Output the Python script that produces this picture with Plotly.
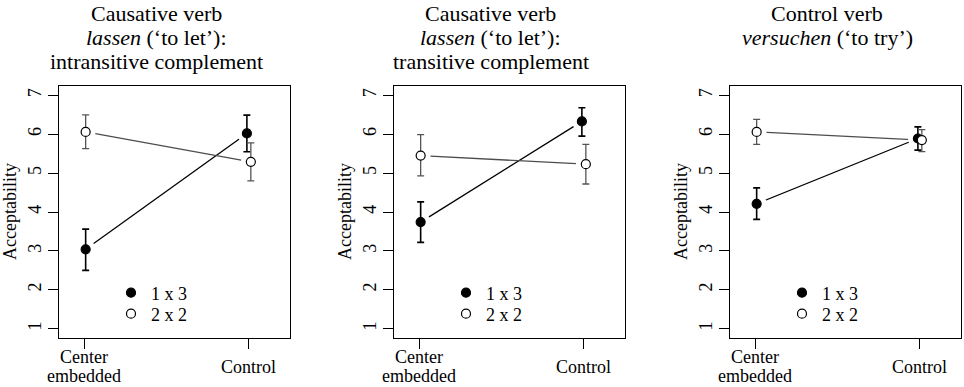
import plotly.graph_objects as go

# ---------------- data ----------------
category_lines = [["Center", "embedded"], ["Control"]]
cat_pos = [1, 2]
series_names = ["1 x 3", "2 x 2"]

panel_titles = [
    ["Causative verb", "<i>lassen</i> (‘to let’):", "intransitive complement"],
    ["Causative verb", "<i>lassen</i> (‘to let’):", "transitive complement"],
    ["Control verb", "<i>versuchen</i> (‘to try’)"],
]

# panel 1
p1_1x3 = [3.04, 6.02]
p1_1x3_hi = [3.56, 6.49]
p1_1x3_lo = [2.50, 5.55]
p1_2x2 = [6.06, 5.29]
p1_2x2_hi = [6.50, 5.78]
p1_2x2_lo = [5.63, 4.80]
# panel 2
p2_1x3 = [3.74, 6.33]
p2_1x3_hi = [4.26, 6.68]
p2_1x3_lo = [3.22, 5.95]
p2_2x2 = [5.45, 5.23]
p2_2x2_hi = [5.99, 5.74]
p2_2x2_lo = [4.93, 4.72]
# panel 3
p3_1x3 = [4.21, 5.89]
p3_1x3_hi = [4.62, 6.19]
p3_1x3_lo = [3.81, 5.59]
p3_2x2 = [6.06, 5.85]
p3_2x2_hi = [6.38, 6.12]
p3_2x2_lo = [5.74, 5.55]

y_ticks = [1, 2, 3, 4, 5, 6, 7]

panels = [
    [(p1_1x3, p1_1x3_hi, p1_1x3_lo), (p1_2x2, p1_2x2_hi, p1_2x2_lo)],
    [(p2_1x3, p2_1x3_hi, p2_1x3_lo), (p2_2x2, p2_2x2_hi, p2_2x2_lo)],
    [(p3_1x3, p3_1x3_hi, p3_1x3_lo), (p3_2x2, p3_2x2_hi, p3_2x2_lo)],
]

# ---------------- style ----------------
FONT = "Liberation Serif"
W, H = 964, 387
dodge = [[0.01, -0.01], [0.01, 0.014]]  # per series, per category
line_colors = ["black", "#4d4d4d"]
err_colors = ["black", "#555555"]
fills = ["black", "white"]

box_left_px = [59, 394, 730]
box_w_px = 231
box_top_px, box_bot_px = 86, 338
title_dx_px = -18.5
title_line_y_px = [13, 38, 62]
legend_row_y_px = [293, 314]
ticklab_y_px = [[357, 376], [367]]

fig = go.Figure()
annotations = []
layout_upd = {}

for p, pdata in enumerate(panels):
    sfx = "" if p == 0 else str(p + 1)
    xa, ya = "x" + sfx, "y" + sfx
    xs_all = []
    for s, (vals, hi, lo) in enumerate(pdata):
        xs = [c + dodge[s][i] for i, c in enumerate(cat_pos)]
        xs_all.append(xs)
        fig.add_trace(go.Scatter(
            x=xs, y=vals, mode="lines", xaxis=xa, yaxis=ya,
            line=dict(color=line_colors[s], width=1.3),
            showlegend=False, hoverinfo="skip"))
    # white masks make gaps between lines and points
    for s, (vals, hi, lo) in enumerate(pdata):
        fig.add_trace(go.Scatter(
            x=xs_all[s], y=vals, mode="markers", xaxis=xa, yaxis=ya,
            marker=dict(size=20, color="white", line=dict(width=0)),
            showlegend=False, hoverinfo="skip"))
    for s, (vals, hi, lo) in enumerate(pdata):
        leg_idx = p * 2 + s + 1
        legname = "legend" if leg_idx == 1 else "legend" + str(leg_idx)
        fig.add_trace(go.Scatter(
            x=xs_all[s], y=vals, mode="markers", xaxis=xa, yaxis=ya,
            name=series_names[s], legend=legname,
            marker=dict(size=9, color=fills[s], symbol="circle",
                        line=dict(color="black", width=1.2)),
            error_y=dict(type="data", symmetric=False,
                         array=[h - v for h, v in zip(hi, vals)],
                         arrayminus=[v - l for v, l in zip(vals, lo)],
                         color=err_colors[s], thickness=1.6 if s == 0 else 1.3,
                         width=3.5)))
        layout_upd[legname] = dict(
            x=(box_left_px[p] + 72 - 20) / W, xanchor="left",
            y=1 - legend_row_y_px[s] / H, yanchor="middle",
            bgcolor="rgba(0,0,0,0)",
            font=dict(family=FONT, size=18, color="black"),
            borderwidth=0)
    x0 = box_left_px[p] / W
    x1 = (box_left_px[p] + box_w_px) / W
    y0 = 1 - box_bot_px / H
    y1 = 1 - box_top_px / H
    axcommon = dict(showgrid=False, zeroline=False, showline=True, mirror=True,
                    linecolor="black", linewidth=1, ticks="outside", ticklen=10,
                    tickwidth=1, tickcolor="black")
    layout_upd["xaxis" + sfx] = dict(domain=[x0, x1], range=[0.848, 2.252],
                                     anchor=ya, tickvals=cat_pos,
                                     showticklabels=False, **axcommon)
    layout_upd["yaxis" + sfx] = dict(domain=[y0, y1], range=[0.76, 7.24],
                                     anchor=xa, tickvals=y_ticks, tickangle=-90,
                                     tickfont=dict(family=FONT, size=18, color="black"),
                                     **axcommon)
    # x tick labels (one annotation per line)
    for c, lines, ys in zip(cat_pos, category_lines, ticklab_y_px):
        for line, ypx in zip(lines, ys):
            annotations.append(dict(x=c, y=1 - ypx / H, xref=xa, yref="paper",
                                    text=line, showarrow=False, xanchor="center",
                                    yanchor="middle", borderpad=0,
                                    font=dict(family=FONT, size=18, color="black")))
    # y axis title
    annotations.append(dict(x=(box_left_px[p] - 49) / W, y=(y0 + y1) / 2,
                            xref="paper", yref="paper", text="Acceptability",
                            textangle=-90, showarrow=False, xanchor="center",
                            yanchor="middle",
                            font=dict(family=FONT, size=18, color="black")))
    # title lines
    cx = (box_left_px[p] + box_w_px / 2 + title_dx_px) / W
    for k, line in enumerate(panel_titles[p]):
        annotations.append(dict(x=cx, y=1 - title_line_y_px[k] / H,
                                xref="paper", yref="paper", text=line,
                                showarrow=False, xanchor="center",
                                yanchor="middle",
                                font=dict(family=FONT, size=22, color="black")))

fig.update_layout(**layout_upd)
fig.update_layout(width=W, height=H, margin=dict(l=0, r=0, t=0, b=0),
                  paper_bgcolor="white", plot_bgcolor="white",
                  font=dict(family=FONT, color="black"),
                  annotations=annotations)
fig.write_html("out.html", config={"displayModeBar": False},
               post_script="document.body.style.margin='0';"
                           "document.body.style.overflow='hidden';")
